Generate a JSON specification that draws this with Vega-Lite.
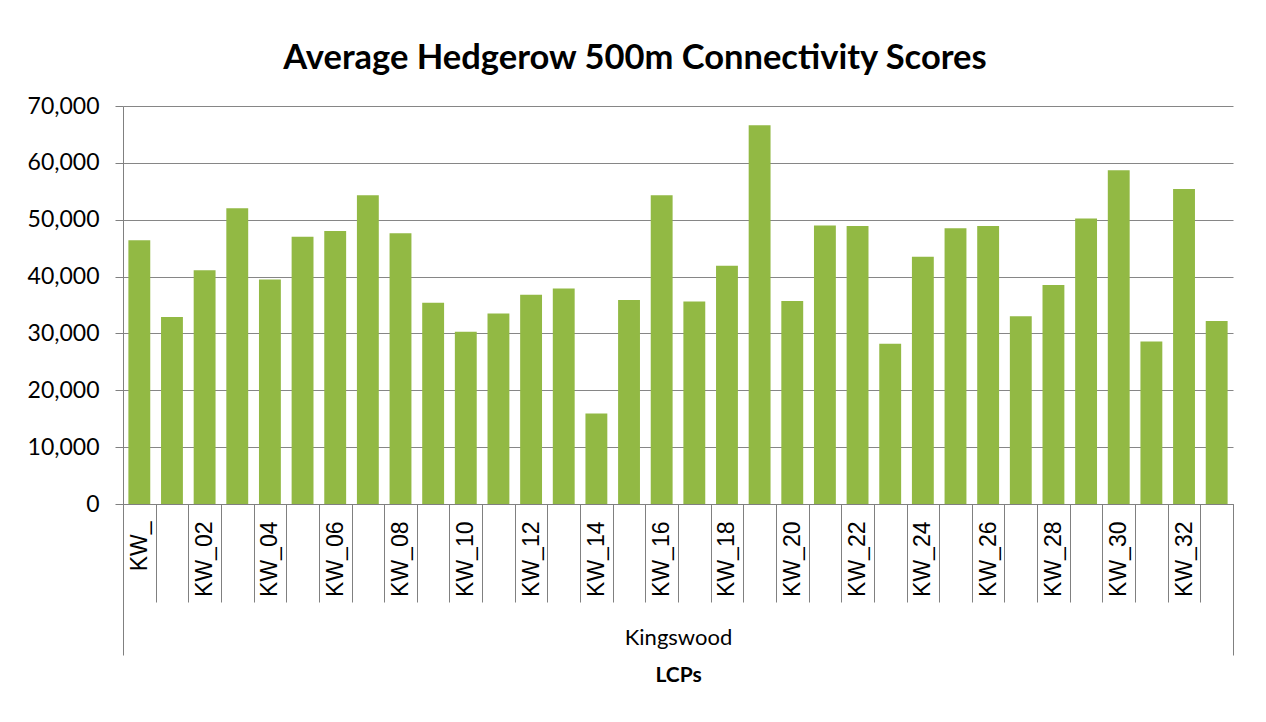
{
  "$schema": "https://vega.github.io/schema/vega-lite/v6.json",
  "width": 1110,
  "height": 398,
  "autosize": "none",
  "padding": {"left": 123, "top": 106, "right": 33, "bottom": 218},
  "background": "white",
  "config": {"view": {"stroke": null}},
  "title": {
    "text": "Average Hedgerow 500m Connectivity Scores",
    "font": "Lato",
    "fontSize": 34.5,
    "fontWeight": "bold",
    "color": "#000000",
    "anchor": "middle",
    "frame": "group",
    "dx": -43,
    "offset": 19
  },
  "data": {
    "values": [
      {"lcp": "KW_", "area": "Kingswood", "score": 46400},
      {"lcp": "KW_01", "area": "Kingswood", "score": 32900},
      {"lcp": "KW_02", "area": "Kingswood", "score": 41100},
      {"lcp": "KW_03", "area": "Kingswood", "score": 52000},
      {"lcp": "KW_04", "area": "Kingswood", "score": 39500},
      {"lcp": "KW_05", "area": "Kingswood", "score": 47000},
      {"lcp": "KW_06", "area": "Kingswood", "score": 48000},
      {"lcp": "KW_07", "area": "Kingswood", "score": 54300},
      {"lcp": "KW_08", "area": "Kingswood", "score": 47600},
      {"lcp": "KW_09", "area": "Kingswood", "score": 35400},
      {"lcp": "KW_10", "area": "Kingswood", "score": 30300},
      {"lcp": "KW_11", "area": "Kingswood", "score": 33500},
      {"lcp": "KW_12", "area": "Kingswood", "score": 36800},
      {"lcp": "KW_13", "area": "Kingswood", "score": 37900},
      {"lcp": "KW_14", "area": "Kingswood", "score": 15900},
      {"lcp": "KW_15", "area": "Kingswood", "score": 35900},
      {"lcp": "KW_16", "area": "Kingswood", "score": 54300},
      {"lcp": "KW_17", "area": "Kingswood", "score": 35600},
      {"lcp": "KW_18", "area": "Kingswood", "score": 41900},
      {"lcp": "KW_19", "area": "Kingswood", "score": 66600},
      {"lcp": "KW_20", "area": "Kingswood", "score": 35700},
      {"lcp": "KW_21", "area": "Kingswood", "score": 49000},
      {"lcp": "KW_22", "area": "Kingswood", "score": 48900},
      {"lcp": "KW_23", "area": "Kingswood", "score": 28200},
      {"lcp": "KW_24", "area": "Kingswood", "score": 43500},
      {"lcp": "KW_25", "area": "Kingswood", "score": 48500},
      {"lcp": "KW_26", "area": "Kingswood", "score": 48900},
      {"lcp": "KW_27", "area": "Kingswood", "score": 33000},
      {"lcp": "KW_28", "area": "Kingswood", "score": 38500},
      {"lcp": "KW_29", "area": "Kingswood", "score": 50200},
      {"lcp": "KW_30", "area": "Kingswood", "score": 58700},
      {"lcp": "KW_31", "area": "Kingswood", "score": 28600},
      {"lcp": "KW_32", "area": "Kingswood", "score": 55400},
      {"lcp": "KW_33", "area": "Kingswood", "score": 32200}
    ]
  },
  "encoding": {
    "y": {
      "field": "score",
      "type": "quantitative",
      "scale": {"domain": [0, 70000], "nice": false},
      "axis": {
        "title": null,
        "values": [0, 10000, 20000, 30000, 40000, 50000, 60000, 70000],
        "format": ",.0f",
        "labelFont": "Lato",
        "labelFontSize": 23,
        "labelColor": "#000000",
        "labelPadding": 16,
        "tickSize": 8,
        "tickColor": "#808080",
        "domainColor": "#808080",
        "gridColor": "#868686",
        "gridOpacity": 1
      }
    }
  },
  "layer": [
    {
      "mark": {"type": "bar", "color": "#92B944", "width": {"band": 0.67}},
      "encoding": {
        "x": {
          "field": "lcp",
          "type": "nominal",
          "sort": null,
          "scale": {"paddingInner": 0, "paddingOuter": 0},
          "axis": {
            "orient": "bottom",
            "title": null,
            "labelAngle": -90,
            "labelFont": "Liberation Sans",
            "labelFontSize": 23,
            "labelColor": "#000000",
            "labelOverlap": false,
            "labelPadding": -81,
            "labelExpr": "(datum.value == 'KW_' || parseInt(substring(datum.value, 3)) % 2 == 0) ? datum.value : ''",
            "tickBand": "extent",
            "tickSize": 98,
            "tickColor": "#808080",
            "domainColor": "#808080",
            "grid": false
          }
        }
      }
    },
    {
      "mark": {"type": "point", "opacity": 0},
      "encoding": {
        "x": {
          "field": "area",
          "type": "nominal",
          "scale": {"paddingInner": 0, "paddingOuter": 0},
          "axis": {
            "orient": "bottom",
            "title": "LCPs",
            "titleFont": "Lato",
            "titleFontSize": 21,
            "titleFontWeight": "bold",
            "titleColor": "#000000",
            "titlePadding": 9,
            "labelAngle": 0,
            "labelFont": "Lato",
            "labelFontSize": 22,
            "labelColor": "#000000",
            "labelPadding": -28,
            "tickBand": "extent",
            "tickSize": 151,
            "tickColor": "#808080",
            "domain": false,
            "grid": false
          }
        }
      }
    }
  ],
  "resolve": {"scale": {"x": "independent"}, "axis": {"x": "independent"}}
}
